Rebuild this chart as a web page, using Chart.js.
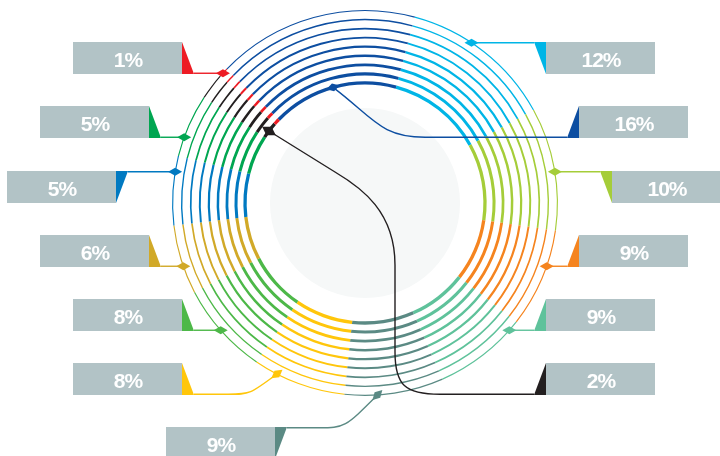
<!DOCTYPE html>
<html>
<head>
<meta charset="utf-8">
<script src="https://cdn.jsdelivr.net/npm/chart.js@4.4.1/dist/chart.umd.min.js"></script>
<style>
  html, body { margin: 0; padding: 0; background: #fff; }
  #chart { display: block; }
</style>
</head>
<body>
<canvas id="chart" width="720" height="456"></canvas>
<script>
// segments, clockwise from the one that starts just right of top
const categories = ['Sky', 'Lime', 'Orange', 'Mint', 'Slate', 'Yellow', 'Green', 'Ochre', 'Blue', 'Emerald', 'Black', 'Red', 'Navy'];
// share of each ring
const ringShares = [12.8, 10.3, 8.3, 7.8, 8.3, 7.8, 7.8, 5.8, 5.8, 5.3, 2.2, 0.8, 16.9];
// values printed in the callout boxes
const labelValues = ['12%', '10%', '9%', '9%', '9%', '8%', '8%', '6%', '5%', '5%', '2%', '1%', '16%'];
const colors = ['#00b5e6', '#a5cd39', '#f5841f', '#5fc29b', '#5b8a84', '#ffc60b', '#4db848', '#d1a928', '#0079c1', '#00a651', '#231f20', '#ed1c24', '#0d4ea1'];
const ringCount = 9;

// ring geometry (0 = innermost)
const OUTER = 193;
const ringR = i => 120 + i * (192.4 - 120) / (ringCount - 1);
const ringW = i => 3.3 - i * 0.27;

const datasets = [];
const ringIndex = {};
let edge = OUTER;
for (let i = ringCount - 1; i >= 0; i--) {
  const top = ringR(i) + ringW(i) / 2;
  datasets.push({ data: [1], backgroundColor: 'rgba(0,0,0,0)', weight: edge - top });
  ringIndex[i] = datasets.length;
  datasets.push({ data: ringShares, backgroundColor: colors, weight: ringW(i) });
  edge = ringR(i) - ringW(i) / 2;
}
const cutout = edge;

const BOX_W = 109, BOX_H = 32, TAB = 12;
const callouts = [
  { seg: 0, ring: 8, box: [546, 42], side: 'R', lead: 'top' },
  { seg: 12, ring: 0, box: [579, 106], side: 'R', lead: 'bottom', frac: 0.5, route: 'navy' },
  { seg: 1, ring: 8, box: [612, 171], side: 'R', lead: 'top' },
  { seg: 2, ring: 8, box: [579, 235], side: 'R', lead: 'bottom' },
  { seg: 3, ring: 8, box: [546, 299], side: 'R', lead: 'bottom' },
  { seg: 10, ring: 0, box: [546, 363], side: 'R', lead: 'bottom', frac: 0.45, route: 'black' },
  { seg: 11, ring: 8, box: [73, 42], side: 'L', lead: 'bottom' },
  { seg: 9, ring: 8, box: [40, 106], side: 'L', lead: 'bottom' },
  { seg: 8, ring: 8, box: [7, 171], side: 'L', lead: 'top' },
  { seg: 7, ring: 8, box: [40, 235], side: 'L', lead: 'bottom' },
  { seg: 6, ring: 8, box: [73, 299], side: 'L', lead: 'bottom' },
  { seg: 5, ring: 8, box: [73, 363], side: 'L', lead: 'bottom', frac: 0.75, knee: 228 },
  { seg: 4, ring: 8, box: [166, 427], side: 'L', lead: 'top', frac: 0.67, knee: 318 }
];

function ringPoint(chart, c, ly) {
  const arc = chart.getDatasetMeta(ringIndex[c.ring]).data[c.seg];
  const r = (arc.innerRadius + arc.outerRadius) / 2;
  if (c.frac === undefined) {
    const dy = ly - arc.y;
    const dx = Math.sqrt(r * r - dy * dy);
    return { x: c.side === 'R' ? arc.x + dx : arc.x - dx, y: ly };
  }
  const a = arc.startAngle + (arc.endAngle - arc.startAngle) * c.frac;
  return { x: arc.x + r * Math.cos(a), y: arc.y + r * Math.sin(a) };
}

function diamond(ctx, p, ang, w, h, col) {
  ctx.save();
  ctx.translate(p.x, p.y);
  ctx.rotate(ang);
  ctx.fillStyle = col;
  ctx.beginPath();
  ctx.moveTo(-w, 0); ctx.lineTo(0, -h); ctx.lineTo(w, 0); ctx.lineTo(0, h);
  ctx.closePath();
  ctx.fill();
  ctx.restore();
}

const decor = {
  id: 'decor',
  beforeDatasetsDraw(chart) {
    const arc = chart.getDatasetMeta(ringIndex[0]).data[0];
    const ctx = chart.ctx;
    ctx.save();
    ctx.fillStyle = '#f6f8f8';
    ctx.beginPath();
    ctx.arc(arc.x, arc.y, 95, 0, Math.PI * 2);
    ctx.fill();
    ctx.restore();
  },
  afterDatasetsDraw(chart) {
    const ctx = chart.ctx;
    callouts.forEach(c => {
      const [bx, by] = c.box;
      const ly = c.lead === 'top' ? by + 0.75 : by + BOX_H - 0.75;
      const tipX = c.side === 'R' ? bx - TAB : bx + BOX_W + TAB;
      const edgeX = c.side === 'R' ? bx : bx + BOX_W;
      const p = ringPoint(chart, c, ly);
      const col = colors[c.seg];
      let ang = 0, dw = 7, dh = 4;

      ctx.save();
      ctx.strokeStyle = col;
      ctx.lineWidth = 1.4;
      ctx.beginPath();
      if (c.route === 'navy') {
        ctx.moveTo(p.x, p.y);
        ctx.bezierCurveTo(p.x + 40, p.y + 30, p.x + 47, ly, p.x + 92, ly);
        ctx.lineTo(tipX, ly);
        ang = -0.27;
      } else if (c.route === 'black') {
        ctx.moveTo(p.x, p.y);
        ctx.lineTo(335, 172);
        ctx.bezierCurveTo(362, 188, 395, 212, 395, 265);
        ctx.lineTo(395, 352);
        ctx.bezierCurveTo(395, 385, 405, ly, 440, ly);
        ctx.lineTo(tipX, ly);
        ang = Math.atan2(172 - p.y, 335 - p.x);
        dw = 8; dh = 5;
      } else if (c.knee !== undefined) {
        const mx = c.knee + 0.45 * (p.x - c.knee);
        ctx.moveTo(tipX, ly);
        ctx.lineTo(c.knee, ly);
        ctx.bezierCurveTo(mx, ly, mx, ly, p.x, p.y);
        ang = Math.atan2(p.y - ly, p.x - mx);
      } else {
        ctx.moveTo(p.x, ly);
        ctx.lineTo(tipX, ly);
      }
      ctx.stroke();
      ctx.restore();
      diamond(ctx, p, ang, dw, dh, col);

      // box
      ctx.fillStyle = '#b2c3c6';
      ctx.fillRect(bx, by, BOX_W, BOX_H);
      // tab
      ctx.fillStyle = col;
      ctx.beginPath();
      ctx.moveTo(edgeX, by);
      ctx.lineTo(edgeX, by + BOX_H);
      ctx.lineTo(tipX, c.lead === 'top' ? by : by + BOX_H);
      ctx.closePath();
      ctx.fill();
      // text
      ctx.save();
      ctx.fillStyle = '#ffffff';
      ctx.font = 'bold 21px "Liberation Sans", Arial, sans-serif';
      ctx.textAlign = 'center';
      ctx.textBaseline = 'alphabetic';
      ctx.letterSpacing = '-1px';
      ctx.fillText(labelValues[c.seg], bx + BOX_W / 2 + 0.5, by + 24.7);
      ctx.restore();
    });
  }
};

new Chart(document.getElementById('chart'), {
  type: 'doughnut',
  data: { labels: categories, datasets },
  options: {
    responsive: false,
    animation: false,
    events: [],
    rotation: 15,
    cutout: cutout,
    layout: { padding: { left: 172, top: 10, right: 162, bottom: 60 } },
    elements: { arc: { borderWidth: 0, hoverBorderWidth: 0, offset: 0, hoverOffset: 0, spacing: 0 } },
    plugins: { legend: { display: false }, tooltip: { enabled: false } }
  },
  plugins: [decor]
});
</script>
</body>
</html>
